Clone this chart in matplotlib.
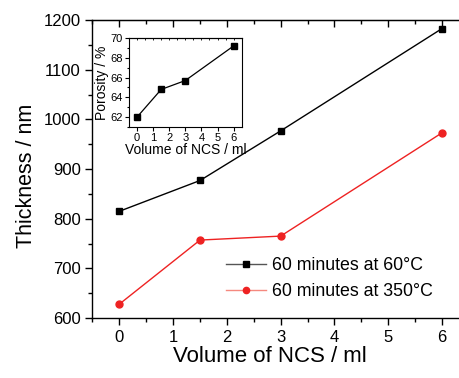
import matplotlib
matplotlib.use("Agg")
import matplotlib.pyplot as plt
from matplotlib.lines import Line2D
from matplotlib.ticker import MultipleLocator

plt.rcParams['font.family'] = ['Liberation Sans', 'DejaVu Sans']

volume = [0, 1.5, 3, 6]
thick_60 = [815, 877, 977, 1183]
thick_350 = [628, 757, 765, 973]
porosity = [62.0, 64.8, 65.7, 69.2]

fig = plt.figure(figsize=(4.59, 3.78), dpi=100)
ax = fig.add_axes([0.2015, 0.1587, 0.82, 0.788])

ax.plot(volume, thick_60, color='black', marker='s', markersize=5, lw=1)
ax.plot(volume, thick_350, color='#ee2222', marker='o', markersize=5, lw=1)
ax.set_xlim(-0.5, 6.5)
ax.set_ylim(600, 1200)
ax.xaxis.set_major_locator(MultipleLocator(1))
ax.xaxis.set_minor_locator(MultipleLocator(0.5))
ax.yaxis.set_major_locator(MultipleLocator(100))
ax.yaxis.set_minor_locator(MultipleLocator(50))
ax.tick_params(which='both', direction='out', labelsize=12, width=1, top=False, right=False)
ax.tick_params(which='major', length=5)
ax.tick_params(which='minor', length=3)
ax.set_xlabel('Volume of NCS / ml', fontsize=16)
ax.set_ylabel('Thickness / nm', fontsize=15.5)
ax.xaxis.set_label_coords(0.4714, -0.095)
ax.yaxis.set_label_coords(-0.147, 0.4765)
for s in ax.spines.values():
    s.set_linewidth(1)

# top ticks pointing inward
top = ax.secondary_xaxis('top')
top.xaxis.set_major_locator(MultipleLocator(1))
top.xaxis.set_minor_locator(MultipleLocator(0.5))
top.tick_params(which='both', direction='in', labeltop=False, width=1)
top.tick_params(which='major', length=5)
top.tick_params(which='minor', length=3)

handles = [
    Line2D([], [], color='#555555', lw=1, marker='s', markersize=4, markerfacecolor='black',
           markeredgecolor='black'),
    Line2D([], [], color='#f5897f', lw=1, marker='o', markersize=4.5, markerfacecolor='#ee2222',
           markeredgecolor='#ee2222'),
]
ax.legend(handles, ['60 minutes at 60°C', '60 minutes at 350°C'],
          loc='lower left', bbox_to_anchor=(0.332, 0.03), frameon=False, fontsize=12.8,
          handlelength=2.25, handletextpad=0.3, labelspacing=0.5, borderpad=0)

ins = fig.add_axes([0.281, 0.664, 0.2455, 0.2354])
ins.plot(volume, porosity, color='black', marker='s', markersize=4.5, lw=0.9)
ins.set_xlim(-0.5, 6.5)
ins.set_ylim(61, 70)
ins.xaxis.set_major_locator(MultipleLocator(1))
ins.yaxis.set_major_locator(MultipleLocator(2))
ins.yaxis.set_minor_locator(MultipleLocator(1))
ins.tick_params(which='both', direction='out', labelsize=8, width=0.8, pad=1.5)
ins.tick_params(which='major', length=3)
ins.tick_params(which='minor', length=1.5)
ins.set_xlabel('Volume of NCS / ml', fontsize=10, labelpad=0)
ins.set_ylabel('Porosity / %', fontsize=10, labelpad=1)
for s in ins.spines.values():
    s.set_linewidth(0.8)
ins_top = ins.secondary_xaxis('top')
ins_top.xaxis.set_major_locator(MultipleLocator(0.5))
ins_top.tick_params(direction='in', labeltop=False, length=1.5, width=0.6)

fig.savefig('out.png', dpi=100)
